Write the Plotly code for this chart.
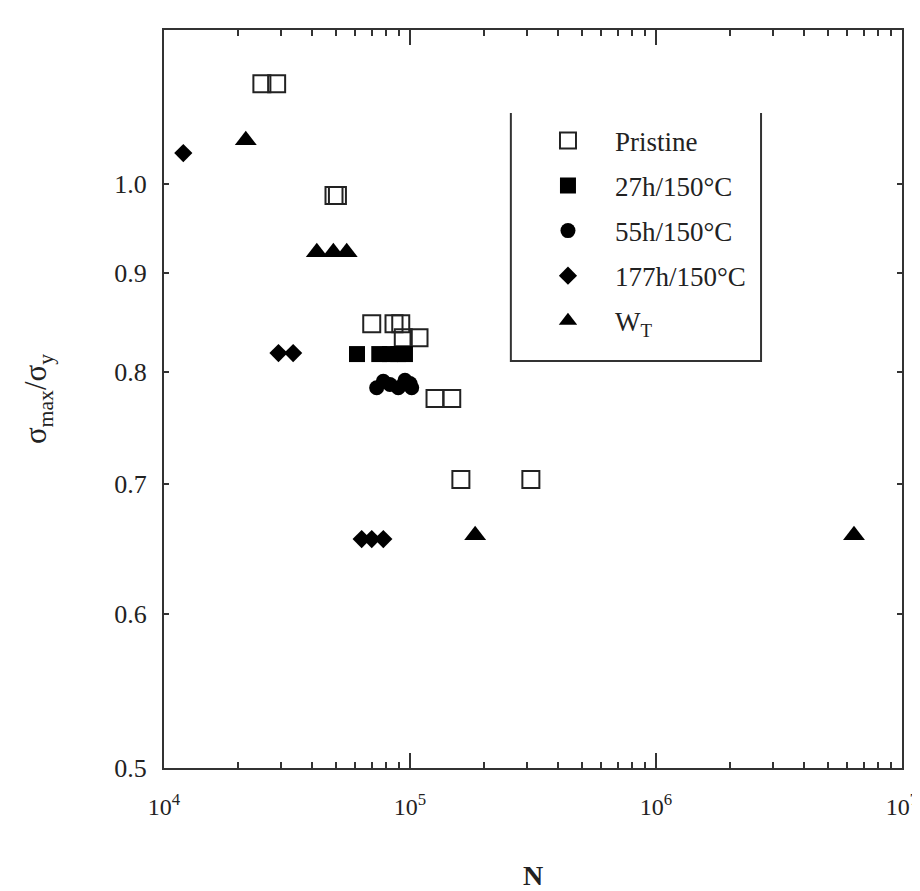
import math
import plotly.graph_objects as go

# ---- data ----
pristine_N = [2.50e4, 2.87e4, 4.91e4, 5.07e4, 6.99e4, 8.61e4, 9.17e4, 9.39e4, 1.088e5, 1.264e5, 1.478e5, 1.61e5, 3.10e5]
pristine_S = [1.126, 1.126, 0.986, 0.986, 0.847, 0.847, 0.847, 0.833, 0.833, 0.775, 0.775, 0.704, 0.704]

h27_N = [6.09e4, 7.5e4, 8.29e4, 8.96e4, 9.54e4]
h27_S = [0.817, 0.817, 0.817, 0.817, 0.817]

h55_N = [7.32e4, 7.79e4, 8.29e4, 8.96e4, 9.54e4, 1.0e5, 1.016e5]
h55_S = [0.785, 0.791, 0.788, 0.785, 0.792, 0.789, 0.785]

h177_N = [1.198e4, 2.92e4, 3.35e4, 6.36e4, 6.99e4, 7.79e4]
h177_S = [1.037, 0.818, 0.818, 0.656, 0.656, 0.656]

wt_N = [2.15e4, 4.18e4, 4.88e4, 5.53e4, 1.84e5, 6.38e6]
wt_S = [1.053, 0.922, 0.922, 0.922, 0.659, 0.659]

series_names = ["Pristine", "27h/150°C", "55h/150°C", "177h/150°C", "W<sub>T</sub>"]

x_tickvals = [1e4, 1e5, 1e6, 1e7]
x_ticktext = ["10<sup>4</sup>", "10<sup>5</sup>", "10<sup>6</sup>", "10<sup>7</sup>"]
x_minor = [m * 10 ** e for e in (4, 5, 6) for m in range(2, 10)]
y_tickvals = [0.5, 0.6, 0.7, 0.8, 0.9, 1.0]
y_ticktext = ["0.5", "0.6", "0.7", "0.8", "0.9", "1.0"]
y_major = [1.0]

X_RANGE = [4, 7]
Y_RANGE = [math.log10(0.5), math.log10(1.2)]

INK = "#222222"
LINE = "#333333"
SERIF = "Liberation Serif, Times New Roman, serif"

fig = go.Figure()

marker_styles = [
    dict(symbol="square-open", size=17, color=INK, line=dict(width=2, color=INK)),
    dict(symbol="square", size=16, color="black"),
    dict(symbol="circle", size=15, color="black"),
    dict(symbol="diamond", size=14, color="black"),
    dict(symbol="triangle-up", size=19, color="black"),
]
series = [(pristine_N, pristine_S), (h27_N, h27_S), (h55_N, h55_S), (h177_N, h177_S), (wt_N, wt_S)]

for i, ((xs, ys), name, mk) in enumerate(zip(series, series_names, marker_styles)):
    fig.add_trace(go.Scatter(x=xs, y=ys, mode="markers", name=name, legendgroup=f"g{i}",
                             marker=mk))

axis_line = dict(showline=True, linecolor=LINE, linewidth=2, showgrid=False, zeroline=False,
                 automargin=False)
hidden = dict(showline=False, showgrid=False, zeroline=False, showticklabels=False, automargin=False)

# the page body adds an 8 px offset, so the figure is 8 px smaller than the window
fig.update_layout(
    width=912, height=883,
    margin=dict(l=156, r=18, t=22, b=123, autoexpand=False),
    paper_bgcolor="white", plot_bgcolor="white",
    font=dict(family=SERIF, color=INK, size=22),
    showlegend=True,
    legend=dict(x=0.4837, y=0.883, xanchor="left", yanchor="top",
                bgcolor="rgba(0,0,0,0)", borderwidth=0, traceorder="grouped",
                font=dict(family=SERIF, size=27, color=INK),
                itemwidth=84, tracegroupgap=7),
    xaxis=dict(type="log", range=X_RANGE, tickmode="array", tickvals=x_tickvals, ticktext=x_ticktext,
               ticks="inside", ticklen=15, tickwidth=2, tickcolor=LINE, mirror="ticks",
               tickfont=dict(family=SERIF, size=24, color=INK), ticklabelstandoff=16,
               minor=dict(tickmode="array", tickvals=x_minor, ticks="inside", ticklen=6,
                          tickwidth=1.5, tickcolor=LINE, showgrid=False),
               title=dict(text="<b>N</b>", font=dict(family=SERIF, size=28, color=INK), standoff=52),
               **axis_line),
    xaxis2=dict(type="log", range=X_RANGE, overlaying="x", anchor="y", side="bottom",
                tickmode="array", tickvals=x_tickvals, ticks="outside", ticklen=15, tickwidth=2,
                tickcolor=LINE, mirror="ticks", **hidden),
    yaxis=dict(type="log", range=Y_RANGE, tickmode="array", tickvals=y_tickvals, ticktext=y_ticktext,
               ticks="inside", ticklen=5, tickwidth=1.5, tickcolor=LINE, mirror="ticks",
               tickfont=dict(family=SERIF, size=26, color=INK), ticklabelstandoff=10,
               title=dict(text="σ<sub>max</sub>/σ<sub>y</sub>", font=dict(family=SERIF, size=31, color=INK),
                          standoff=58),
               **axis_line),
    yaxis2=dict(type="log", range=Y_RANGE, overlaying="y", anchor="x", side="left",
                tickmode="array", tickvals=y_major, ticks="inside", ticklen=12, tickwidth=2,
                tickcolor=LINE, mirror="ticks", **hidden),
    yaxis3=dict(type="log", range=Y_RANGE, overlaying="y", anchor="x", side="left",
                tickmode="array", tickvals=y_major, ticks="outside", ticklen=12, tickwidth=2,
                tickcolor=LINE, mirror="ticks", **hidden),
)

# legend frame (open at the top, as in the reference)
fig.add_shape(type="path", xref="paper", yref="paper",
              path="M 0.470 0.8875 L 0.470 0.5515 L 0.809 0.5515 L 0.809 0.8875",
              line=dict(color=LINE, width=2))

fig.write_html("out.html")
